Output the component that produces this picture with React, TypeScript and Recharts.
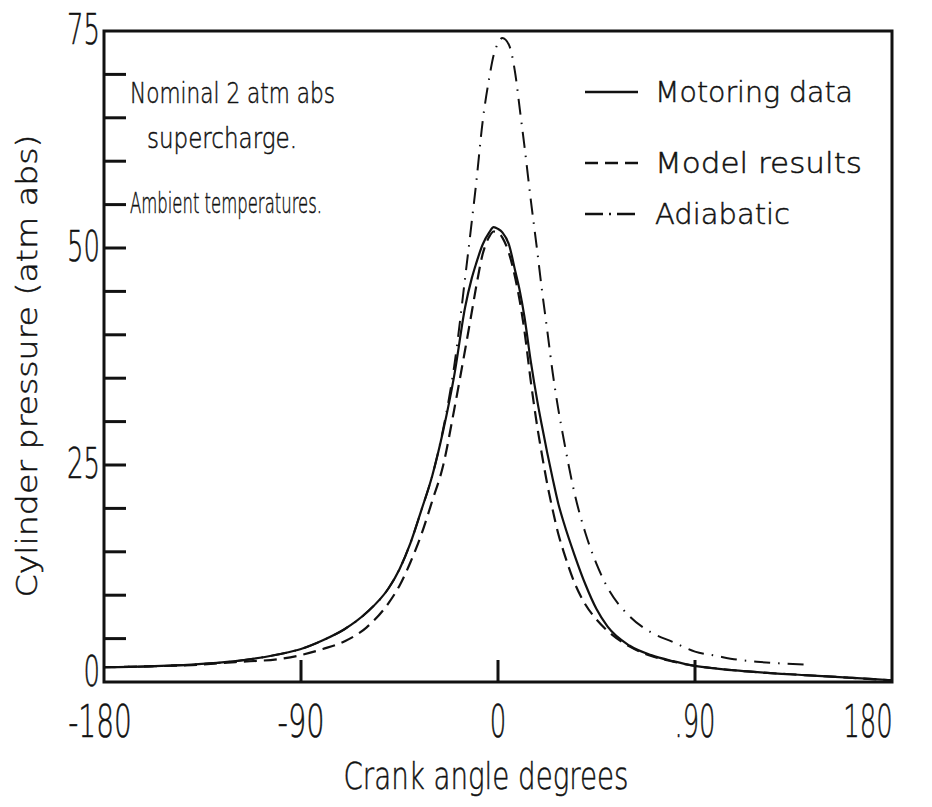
import React from 'react';
import {
  LineChart,
  Line,
  XAxis,
  YAxis,
  ReferenceArea,
  Legend,
  Customized
} from 'recharts';

// crank angle (deg) shared by all three curves
const angles = [
  -180, -160, -140, -120, -100, -90, -80, -70, -60, -50,
  -45, -40, -35, -30, -25, -20, -15, -12, -10, -7,
  -4, -2, 0, 2, 5, 8, 10, 12, 15, 18,
  20, 22.5, 25, 27.5, 30, 35, 40, 45, 50, 60,
  70, 80, 90, 100, 110, 120, 140, 160, 180
];

// cylinder pressure (atm abs)
const motoring = [
  1.7, 1.8, 2.0, 2.4, 3.2, 3.8, 4.8, 6.1, 8.0, 10.8,
  13.0, 16.0, 19.8, 23.8, 29.0, 35.3, 43.2, 46.5, 48.2, 50.4,
  51.8, 52.4, 52.2, 51.8, 50.4, 47.2, 45.0, 42.2, 36.9, 32.3,
  29.6, 26.4, 23.4, 20.6, 18.4, 14.6, 11.2, 8.4, 6.4, 4.2,
  3.1, 2.4, 1.85, 1.55, 1.3, 1.1, 0.8, 0.5, 0.2
];

const model = [
  1.7, 1.8, 1.95, 2.3, 2.65, 3.1, 3.8, 4.7, 6.3, 9.1,
  11.1, 13.8, 17.0, 20.9, 25.0, 31.4, 38.3, 42.6, 45.5, 49.3,
  51.3, 51.9, 51.8, 51.2, 49.4, 46.4, 43.8, 40.6, 34.6, 29.3,
  26.3, 22.8, 19.8, 17.1, 15.0, 11.4, 8.9, 7.2, 5.9, 4.1,
  3.0, 2.35, 1.85, 1.55, 1.3, 1.1, 0.8, 0.5, 0.2
];

const adiabatic = [
  1.7, 1.8, 2.0, 2.4, 3.2, 3.8, 4.8, 6.1, 8.0, 10.8,
  13.0, 16.0, 19.8, 23.8, 29.2, 36.4, 46.6, 53.0, 57.4, 64.6,
  69.6, 72.2, 73.6, 74.2, 73.4, 69.9, 65.9, 61.9, 55.5, 49.5,
  45.3, 40.5, 35.6, 31.5, 28.0, 21.7, 17.1, 13.6, 10.9, 7.6,
  5.7, 4.6, 3.5, 3.0, 2.55, 2.3, 2.0, null, null
];

const seriesKeys = ['motoring', 'model', 'adiabatic'];
const seriesNames = ['Motoring data', 'Model results', 'Adiabatic'];

const xTicks = [-180, -90, 0, 90, 180];
const xTickLabels = ['-180', '-90', '0', '.90', '180'];
const yTicks = [0, 5, 10, 15, 20, 25, 30, 35, 40, 45, 50, 55, 60, 65, 70, 75];
const yLabelled = [0, 25, 50, 75];

const notes = ['Nominal 2 atm abs', 'supercharge.', 'Ambient temperatures.'];

const data = angles.map((a, i) => ({
  angle: a,
  motoring: motoring[i],
  model: model[i],
  adiabatic: adiabatic[i]
}));

const INK = '#111';
const FONT = '"DejaVu Sans", sans-serif';

const dashes: Record<string, string | undefined> = {
  motoring: undefined,
  model: '13 7',
  adiabatic: '16 8 1.5 8'
};
const legendDashes: Record<string, string | undefined> = {
  motoring: undefined,
  model: '13 7',
  adiabatic: '18 6 2 6'
};

// narrow plotter-style lettering
const PlotText = ({ x, y, size, width, anchor = 'start', rotate = 0, children }: any) => (
  <text
    x={x}
    y={y}
    fontSize={size}
    fontFamily={FONT}
    fontWeight={300}
    fill={INK}
    stroke={INK}
    strokeWidth={0.5}
    textAnchor={anchor}
    textLength={width}
    lengthAdjust="spacingAndGlyphs"
    transform={rotate ? `rotate(${rotate} ${x} ${y})` : undefined}
  >
    {children}
  </text>
);

const labelWidth = (s: string) =>
  s.split('').reduce((w, c) => w + (c === '-' ? 14 : c === '.' ? 8 : 16.5), 0);

const YTick = (props: any) => {
  const { x, y, payload } = props;
  const v = payload.value;
  return (
    <g>
      {v > 0 && v < 75 && (
        <line x1={x} x2={x + 22} y1={y} y2={y} stroke={INK} strokeWidth={3} />
      )}
      {yLabelled.includes(v) && (
        <PlotText x={x - 4} y={y + (v === 0 ? 4 : 13)} size={42} width={labelWidth(String(v))} anchor="end">
          {v}
        </PlotText>
      )}
    </g>
  );
};

const XTick = (props: any) => {
  const { x, y, payload } = props;
  const v = payload.value;
  const label = xTickLabels[xTicks.indexOf(v)] ?? String(v);
  const shift = v === 180 ? -24 : v === -180 ? -4 : 0;
  return (
    <g>
      {v > -180 && v < 180 && (
        <line x1={x} x2={x} y1={y} y2={y - 22} stroke={INK} strokeWidth={3} />
      )}
      <PlotText x={x + shift} y={y + 55} size={44} width={labelWidth(label)} anchor="middle">
        {label}
      </PlotText>
    </g>
  );
};

const legendRows = [
  { base: 40, width: 198 },
  { base: 111, width: 207 },
  { base: 162, width: 135 }
];

const renderLegend = (props: any) => {
  const payload = props.payload || [];
  return (
    <svg width={320} height={180}>
      {payload.map((entry: any) => {
        const i = seriesKeys.indexOf(entry.dataKey);
        const row = legendRows[i];
        return (
          <g key={entry.dataKey}>
            <line
              x1={10}
              x2={63}
              y1={row.base - 10}
              y2={row.base - 10}
              stroke={INK}
              strokeWidth={2.4}
              strokeDasharray={legendDashes[entry.dataKey]}
            />
            <PlotText x={80} y={row.base} size={29} width={row.width}>
              {seriesNames[i]}
            </PlotText>
          </g>
        );
      })}
    </svg>
  );
};

const Notes = () => (
  <g>
    <PlotText x={37} y={366} size={29} width={463} anchor="middle" rotate={-90}>
      Cylinder pressure (atm abs)
    </PlotText>
    <PlotText x={486} y={789} size={38} width={285} anchor="middle">
      Crank angle degrees
    </PlotText>
    <PlotText x={130} y={103} size={29} width={205}>{notes[0]}</PlotText>
    <PlotText x={147} y={148} size={29} width={150}>{notes[1]}</PlotText>
    <PlotText x={130} y={213} size={29} width={192}>{notes[2]}</PlotText>
  </g>
);

const App = () => {
  return (
    <div style={{ position: 'absolute', left: 0, top: 0, background: '#fff' }}>
      <LineChart
        width={932}
        height={807}
        data={data}
        margin={{ top: 31, right: 40, bottom: 0, left: 0 }}
      >
        <XAxis
          dataKey="angle"
          type="number"
          domain={[-180, 180]}
          ticks={xTicks}
          height={125}
          axisLine={false}
          tickLine={false}
          tickSize={0}
          tickMargin={0}
          tick={<XTick />}
          interval={0}
        />
        <YAxis
          type="number"
          domain={[0, 75]}
          ticks={yTicks}
          width={104}
          axisLine={false}
          tickLine={false}
          tickSize={0}
          tickMargin={0}
          tick={<YTick />}
          interval={0}
        />
        <ReferenceArea x1={-180} x2={180} y1={0} y2={75} fill="none" stroke={INK} strokeWidth={3} />
        <Line
          dataKey="motoring"
          name={seriesNames[0]}
          type="monotone"
          stroke={INK}
          strokeWidth={2.2}
          dot={false}
          activeDot={false}
          isAnimationActive={false}
        />
        <Line
          dataKey="model"
          name={seriesNames[1]}
          type="monotone"
          stroke={INK}
          strokeWidth={2.2}
          strokeDasharray={dashes.model}
          dot={false}
          activeDot={false}
          isAnimationActive={false}
        />
        <Line
          dataKey="adiabatic"
          name={seriesNames[2]}
          type="monotone"
          stroke={INK}
          strokeWidth={2}
          strokeDasharray={dashes.adiabatic}
          dot={false}
          activeDot={false}
          isAnimationActive={false}
        />
        <Legend
          layout="horizontal"
          verticalAlign="middle"
          align="center"
          content={renderLegend}
          wrapperStyle={{ position: 'absolute', left: 575, top: 62, width: 320, height: 180 }}
        />
        <Customized component={Notes} />
      </LineChart>
    </div>
  );
};

export default App;
